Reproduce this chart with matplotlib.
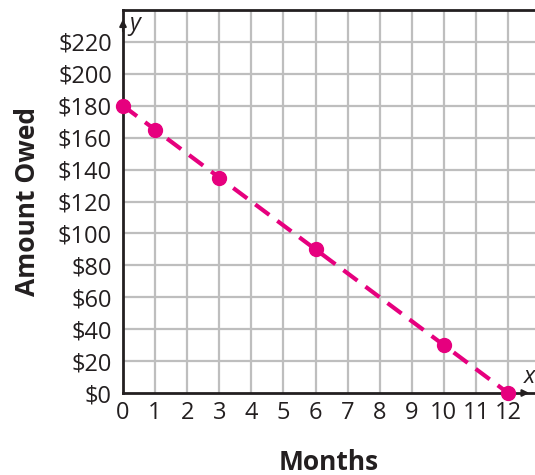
import matplotlib
matplotlib.use("Agg")
import matplotlib.pyplot as plt

months = [0, 1, 3, 6, 10, 12]
owed = [180, 165, 135, 90, 30, 0]
x_ticks = list(range(0, 13))
y_ticks = list(range(0, 240, 20))
y_labels = ["$%d" % v for v in y_ticks]

pink = "#E6007E"
grey = "#BEBEBE"

plt.rcParams["font.family"] = ["Open Sans", "DejaVu Sans"]

fig = plt.figure(figsize=(5.35, 4.75), dpi=100)
ax = fig.add_axes([123 / 535, 82 / 475, 412 / 535, 383 / 475])

ax.set_xlim(0, 12.84)
ax.set_ylim(0, 240)

ax.set_xticks(x_ticks)
ax.set_yticks(y_ticks)
ax.set_yticklabels(y_labels)
ax.tick_params(length=0, labelsize=17, colors="#231F20")
ax.tick_params(axis="x", pad=6)
ax.tick_params(axis="y", pad=8)

# grid
for v in x_ticks[1:]:
    ax.axvline(v, color=grey, lw=1.6, zorder=1)
for v in y_ticks[1:]:
    ax.axhline(v, color=grey, lw=1.6, zorder=1)

for s in ["left", "bottom", "top"]:
    ax.spines[s].set_linewidth(2.0)
    ax.spines[s].set_color("#231F20")
    ax.spines[s].set_zorder(3)
ax.spines["right"].set_visible(False)

# axis arrows
ax.annotate("", xy=(0, 236), xytext=(0, 225),
            arrowprops=dict(arrowstyle="-|>", color="#231F20", lw=1.5,
                            mutation_scale=10), zorder=4)
ax.annotate("", xy=(12.75, 0), xytext=(12.4, 0),
            arrowprops=dict(arrowstyle="-|>", color="#231F20", lw=1.5,
                            mutation_scale=10), annotation_clip=False, zorder=4)
ax.text(0.2, 231, "y", fontsize=17, style="italic", va="center", ha="left",
        color="#231F20")
ax.text(12.5, 10, "x", fontsize=17, style="italic", va="center", ha="left",
        color="#231F20")

ax.plot(months, owed, color=pink, lw=3, dashes=(4.2, 2.4), zorder=5,
        clip_on=False)
ax.plot(months, owed, "o", color=pink, ms=10, zorder=6, clip_on=False)

ax.set_xlabel("Months", fontsize=19, fontweight="bold", labelpad=17,
              color="#231F20")
ax.set_ylabel("Amount Owed", fontsize=19, fontweight="bold", labelpad=12,
              color="#231F20")

fig.savefig("out.png", dpi=100)
